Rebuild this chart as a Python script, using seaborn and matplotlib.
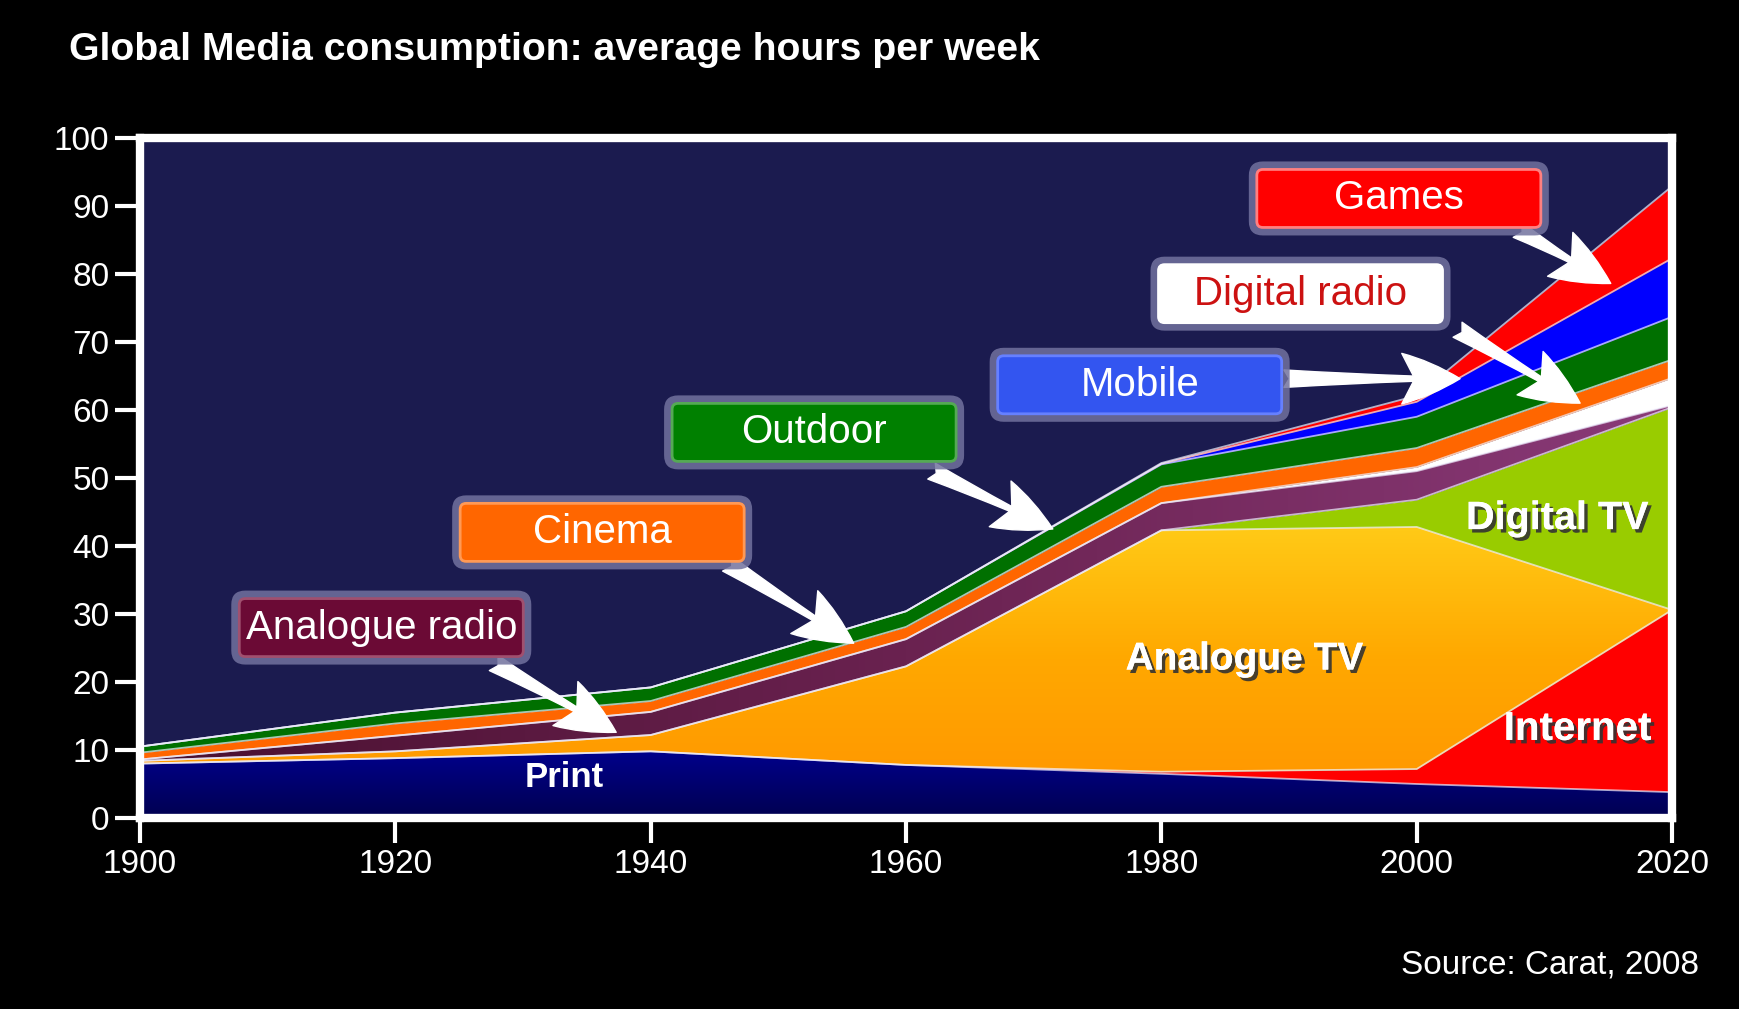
import numpy as np
import pandas as pd
import seaborn as sns
import matplotlib.pyplot as plt
import matplotlib.patheffects as pe
from matplotlib.patches import FancyBboxPatch, FancyArrowPatch
from matplotlib.transforms import ScaledTranslation
from matplotlib.colors import LinearSegmentedColormap

# hours per week (stack order bottom -> top)
years = [1900, 1920, 1940, 1960, 1980, 2000, 2020]
print_hrs = [8.0, 8.8, 9.8, 7.8, 6.5, 5.0, 3.8]
internet = [0, 0, 0, 0, 0.3, 2.2, 26.8]
analogue_tv = [0.4, 1.0, 2.4, 14.5, 35.5, 35.6, 0]
digital_tv = [0, 0, 0, 0, 0, 4.0, 29.8]
analogue_radio = [0.2, 2.3, 3.4, 4.0, 4.0, 4.2, 0.3]
digital_radio = [0, 0, 0, 0, 0, 0.6, 4.0]
cinema = [1.0, 1.8, 1.6, 1.8, 2.4, 2.8, 2.7]
outdoor = [0.9, 1.6, 2.0, 2.3, 3.3, 4.6, 6.3]
mobile = [0, 0, 0, 0, 0.1, 2.2, 8.6]
games = [0, 0, 0, 0, 0.1, 0.9, 10.6]

layers = ['Print', 'Internet', 'Analogue TV', 'Digital TV', 'Analogue radio',
          'Digital radio', 'Cinema', 'Outdoor', 'Mobile', 'Games']
values = [print_hrs, internet, analogue_tv, digital_tv, analogue_radio,
          digital_radio, cinema, outdoor, mobile, games]
layer_colors = ['#000070', '#ff0000', '#ffb400', '#99cc00', '#6e2556',
                '#ffffff', '#ff6600', '#007000', '#0000ff', '#ff0000']

sns.set_style('dark')
plt.rcParams['font.family'] = ['Liberation Sans', 'DejaVu Sans']

fig = plt.figure(figsize=(17.39, 10.09), dpi=100, facecolor='black')
ax = fig.add_axes([0.0805, 0.1893, 0.881, 0.674])
ax.set_facecolor('#1b1b4f')

polys = ax.stackplot(years, *values, colors=layer_colors, linewidth=0, zorder=1)


def gradient_fill(poly, colors, extent, vertical=True):
    cmap = LinearSegmentedColormap.from_list('g', colors)
    g = np.linspace(0, 1, 256)
    img = g.reshape(-1, 1) if vertical else g.reshape(1, -1)
    im = ax.imshow(img, cmap=cmap, extent=extent, origin='lower',
                   aspect='auto', zorder=1.2, interpolation='bicubic')
    im.set_clip_path(poly.get_paths()[0], ax.transData)


gradient_fill(polys[0], ['#000050', '#000090'], [1900, 2020, 0, 10.5])
gradient_fill(polys[2], ['#ff9600', '#ffa800', '#ffcc18'], [1900, 2020, 3, 44])
gradient_fill(polys[4], ['#4a1030', '#6a2250', '#8a3a78'], [1900, 2020, 0, 70], vertical=False)

# thin light seams between the layers
tops = np.cumsum(np.array(values), axis=0)
edges = pd.DataFrame({'year': np.tile(years, len(layers)),
                      'hours': tops.ravel(),
                      'layer': np.repeat(layers, len(years))})
sns.lineplot(data=edges, x='year', y='hours', units='layer', estimator=None,
             color='#f0f0ff', lw=1.3, alpha=0.7, ax=ax, zorder=2)

ax.set_xlim(1900, 2020)
ax.set_ylim(0, 100)
ax.set_xticks(years)
ax.set_yticks(range(0, 101, 10))
ax.set_xlabel('')
ax.set_ylabel('')
ax.grid(False)
ax.tick_params(colors='white', labelcolor='white', labelsize=24, length=18,
               width=3, direction='out', pad=4, bottom=True, left=True)
for s in ax.spines.values():
    s.set_visible(True)
    s.set_color('white')
    s.set_linewidth(6)

# labels inside the areas
shadow = [pe.withSimplePatchShadow(offset=(2.5, -2.5), shadow_rgbFace='#333333', alpha=0.9),
          pe.Normal()]
ax.text(1933.2, 6.0, 'Print', color='white', fontsize=25, fontweight='bold',
        ha='center', va='center', zorder=5)
ax.text(1986.5, 23.3, 'Analogue TV', color='white', fontsize=28, fontweight='bold',
        ha='center', va='center', zorder=5, path_effects=shadow)
ax.text(2011.0, 44.1, 'Digital TV', color='white', fontsize=28.5, fontweight='bold',
        ha='center', va='center', zorder=5, path_effects=shadow)
ax.text(2012.6, 13.1, 'Internet', color='white', fontsize=29, fontweight='bold',
        ha='center', va='center', zorder=5, path_effects=shadow)

# callout boxes with arrows
callouts = [
    ('Games', 1998.6, 91.1, '#ff0000', '#ff8080', 'white', (2007.9, 86.5), (2015.2, 78.6)),
    ('Digital radio', 1990.9, 77.1, '#ffffff', '#ffffff', '#cc1111', (2003.2, 71.8), (2012.8, 61.0)),
    ('Mobile', 1978.3, 63.7, '#3355f0', '#6680ff', 'white', (1989.6, 64.6), (2003.4, 64.6)),
    ('Outdoor', 1952.8, 56.7, '#008000', '#55aa55', 'white', (1962.0, 51.0), (1971.5, 42.5)),
    ('Cinema', 1936.2, 42.0, '#ff6600', '#ff9955', 'white', (1946.0, 37.4), (1955.9, 25.7)),
    ('Analogue radio', 1918.9, 28.0, '#6b0a35', '#a0506f', 'white', (1927.7, 22.8), (1937.3, 12.6)),
]
w, h = 2.84, 0.58
for text, x, y, face, rim, tcolor, start, end in callouts:
    arrow = FancyArrowPatch(start, end,
                            arrowstyle='fancy,head_length=1.5,head_width=1.3,tail_width=0.45',
                            mutation_scale=28, color='white', shrinkA=0, shrinkB=0,
                            zorder=5.5)
    ax.add_patch(arrow)
    tr = fig.dpi_scale_trans + ScaledTranslation(x, y, ax.transData)
    glow = FancyBboxPatch((-w / 2, -h / 2), w, h,
                          boxstyle='round,pad=0.08,rounding_size=0.14',
                          transform=tr, fc='#72729e', ec='none', alpha=0.85,
                          zorder=6, clip_on=False)
    box = FancyBboxPatch((-w / 2, -h / 2), w, h,
                         boxstyle='round,pad=0,rounding_size=0.06',
                         transform=tr, fc=face, ec=rim, lw=2,
                         zorder=6.1, clip_on=False)
    ax.add_patch(glow)
    ax.add_patch(box)
    ax.text(x, y, text, color=tcolor, fontsize=29, ha='center', va='center',
            zorder=7)

fig.text(0.0397, 0.950, 'Global Media consumption: average hours per week',
         color='white', fontsize=28.3, fontweight='bold', ha='left', va='center')
fig.text(0.977, 0.0436, 'Source: Carat, 2008', color='white', fontsize=24,
         ha='right', va='center')

fig.savefig('out.png', dpi=100, facecolor='black')
